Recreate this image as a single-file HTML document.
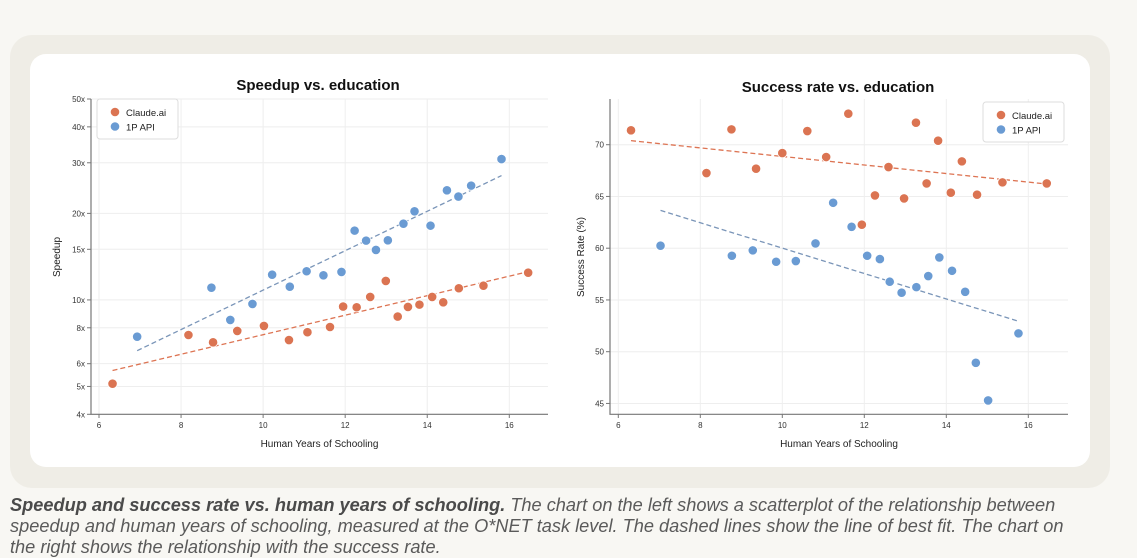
<!DOCTYPE html>
<html><head><meta charset="utf-8">
<style>
html,body{margin:0;padding:0;background:#f8f7f3;width:1137px;height:557px;overflow:hidden;font-family:"Liberation Sans",sans-serif;}
#outer{position:absolute;left:10px;top:35px;width:1100px;height:453px;background:#efede6;border-radius:22px;}
#inner{position:absolute;left:30px;top:54px;width:1060px;height:413px;background:#fff;border-radius:16px;}
#chart{position:absolute;left:0;top:0;}
#caption{position:absolute;left:10px;top:495px;width:1082px;font-size:18.2px;line-height:21px;color:#5a5a5a;font-style:italic;}
#caption b{color:#4a4a4a;}
</style></head><body>
<div id="outer"></div>
<div id="inner"></div>
<svg id="chart" width="1137" height="557"></svg>
<div id="caption"><b>Speedup and success rate vs. human years of schooling.</b> The chart on the left shows a scatterplot of the relationship between speedup and human years of schooling, measured at the O*NET task level. The dashed lines show the line of best fit. The chart on the right shows the relationship with the success rate.</div>
<script>
const xTicks=[6,8,10,12,14,16];
const speedTicks=[4,5,6,8,10,15,20,30,40,50];
const speedTickLabels=["4x","5x","6x","8x","10x","15x","20x","30x","40x","50x"];
const rateTicks=[45,50,55,60,65,70];
const claudeSpeedX=[6.33,8.18,8.78,9.37,10.02,10.63,11.08,11.63,11.95,12.28,12.61,12.99,13.28,13.53,13.81,14.12,14.39,14.77,15.37,16.46];
const claudeSpeedY=[5.11,7.55,7.12,7.8,8.12,7.25,7.72,8.05,9.48,9.43,10.24,11.64,8.75,9.45,9.63,10.24,9.81,10.98,11.21,12.44];
const apiSpeedX=[6.93,8.74,9.20,9.74,10.22,10.65,11.06,11.47,11.91,12.23,12.51,12.75,13.04,13.42,13.69,14.08,14.48,14.76,15.07,15.81];
const apiSpeedY=[7.45,11.03,8.52,9.68,12.24,11.12,12.58,12.18,12.51,17.42,16.08,14.92,16.12,18.42,20.34,18.13,24.06,22.88,24.98,30.9];
const claudeSpeedFitX=[6.33,16.46];
const claudeSpeedFitY=[5.68,12.54];
const apiSpeedFitX=[6.93,15.81];
const apiSpeedFitY=[6.66,27.07];
const claudeRateX=[6.31,8.15,8.76,9.36,10.0,10.61,11.07,11.61,11.94,12.26,12.59,12.97,13.26,13.52,13.80,14.11,14.38,14.75,15.37,16.45];
const claudeRateY=[71.39,67.26,71.48,67.68,69.19,71.32,68.81,73.0,62.27,65.10,67.84,64.81,72.13,66.26,70.39,65.36,68.39,65.17,66.36,66.26];
const apiRateX=[7.03,8.77,9.28,9.85,10.33,10.81,11.24,11.69,12.07,12.38,12.62,12.91,13.27,13.56,13.83,14.14,14.46,14.72,15.02,15.76];
const apiRateY=[60.24,59.27,59.79,58.69,58.76,60.46,64.39,62.07,59.27,58.95,56.76,55.70,56.24,57.31,59.11,57.82,55.79,48.93,45.29,51.77];
const claudeRateFitX=[6.31,16.45];
const claudeRateFitY=[70.39,66.2];
const apiRateFitX=[7.03,15.72];
const apiRateFitY=[63.65,52.99];

const NS="http://www.w3.org/2000/svg";
const svg=document.getElementById('chart');
const ORANGE="#db7452",BLUE="#6a9bd3",OFIT="#dd7453",BFIT="#7a95b8";
function el(tag,attrs,parent){const e=document.createElementNS(NS,tag);for(const k in attrs)e.setAttribute(k,attrs[k]);(parent||svg).appendChild(e);return e;}
function txt(s,attrs,parent){const e=el('text',attrs,parent);e.textContent=s;return e;}

const Lx=v=>99+(v-6)*41.03;
const Ly=v=>414.3-(Math.log(v/4)/Math.log(12.5))*315.3;
const Rx=v=>618.3+(v-6)*41.0;
const Ry=v=>144.7+(70-v)*10.35;

function drawPanel(p){
  const g=el('g',{});
  
  
  p.xt.forEach(t=>{el('line',{x1:p.X(t),x2:p.X(t),y1:99,y2:414,stroke:'#eeeeee','stroke-width':1},g);});
  p.yt.forEach(t=>{el('line',{x1:p.ax,x2:p.ax2,y1:p.Y(t),y2:p.Y(t),stroke:'#eeeeee','stroke-width':1},g);});
  const axes=el('path',{d:`M${p.ax},99 V414.3 H${p.ax2}`,fill:'none',stroke:'#777','stroke-width':1.2},g);
  
  
  p.xt.forEach(t=>{
    el('line',{x1:p.X(t),x2:p.X(t),y1:414.3,y2:418,stroke:'#777'},g);
    const l=txt(String(t),{x:p.X(t),y:428,'font-size':8,'text-anchor':'middle',fill:'#333'},g);
    
    
  });
  p.yt.forEach((t,i)=>{
    el('line',{x1:p.ax-4,x2:p.ax,y1:p.Y(t),y2:p.Y(t),stroke:'#777'},g);
    const l=txt(p.yl[i],{x:p.ax-6,y:p.Y(t)+3,'font-size':8,'text-anchor':'end',fill:'#333'},g);
    
    
  });
  const tt=txt(p.title,{x:p.tx,y:p.ty,'font-size':15,'font-weight':'bold','text-anchor':'middle',fill:'#111'},g);
  
  
  const xt=txt('Human Years of Schooling',{x:(p.ax+p.ax2)/2,y:447,'font-size':10,'text-anchor':'middle',fill:'#222'},g);
  
  
  const yt=txt(p.ytitle,{x:0,y:0,'font-size':10,'text-anchor':'middle',fill:'#222',transform:`translate(${p.yx},${p.yy}) rotate(-90)`},g);
  
  
  [[p.fo,OFIT,'fit-line-claude'],[p.fb,BFIT,'fit-line-api']].forEach(([f,c,n])=>{
    const ln=el('line',{x1:p.X(f[0][0]),y1:p.Y(f[1][0]),x2:p.X(f[0][1]),y2:p.Y(f[1][1]),stroke:c,'stroke-width':1.3,'stroke-dasharray':'5,3'},g);
    
    
  });
  [[p.o,ORANGE,'point-claude'],[p.b,BLUE,'point-api']].forEach(([s,c,n])=>{
    s[0].forEach((x,i)=>{
      const pt=el('circle',{cx:p.X(x),cy:p.Y(s[1][i]),r:4.7,fill:c,stroke:'#fff','stroke-width':0.8},g);
      
      
    });
  });
  const lg=el('g',{},g);
  
  
  el('rect',{x:p.lx,y:p.ly,width:81,height:40,rx:3,fill:'#fff',stroke:'#ddd'},lg);
  [['Claude.ai',ORANGE],['1P API',BLUE]].forEach(([s,c],i)=>{
    const e=el('g',{},lg);
    
    
    el('circle',{cx:p.lx+18,cy:p.ly+13+i*14.5,r:4.3,fill:c},e);
    txt(s,{x:p.lx+29,y:p.ly+17+i*14.5,'font-size':9.5,fill:'#222'},e);
  });
}

drawPanel({name:'speedup-chart',X:Lx,Y:Ly,xt:xTicks,yt:speedTicks,yl:speedTickLabels,ax:91,ax2:548,
  title:'Speedup vs. education',tx:318,ty:90,ytitle:'Speedup',yx:60,yy:257,
  o:[claudeSpeedX,claudeSpeedY],b:[apiSpeedX,apiSpeedY],
  fo:[claudeSpeedFitX,claudeSpeedFitY],fb:[apiSpeedFitX,apiSpeedFitY],lx:97,ly:99});
drawPanel({name:'success-rate-chart',X:Rx,Y:Ry,xt:xTicks,yt:rateTicks,yl:rateTicks.map(String),ax:610,ax2:1068,
  title:'Success rate vs. education',tx:838,ty:92,ytitle:'Success Rate (%)',yx:584,yy:257,
  o:[claudeRateX,claudeRateY],b:[apiRateX,apiRateY],
  fo:[claudeRateFitX,claudeRateFitY],fb:[apiRateFitX,apiRateFitY],lx:983,ly:102});
</script>
</body></html>
